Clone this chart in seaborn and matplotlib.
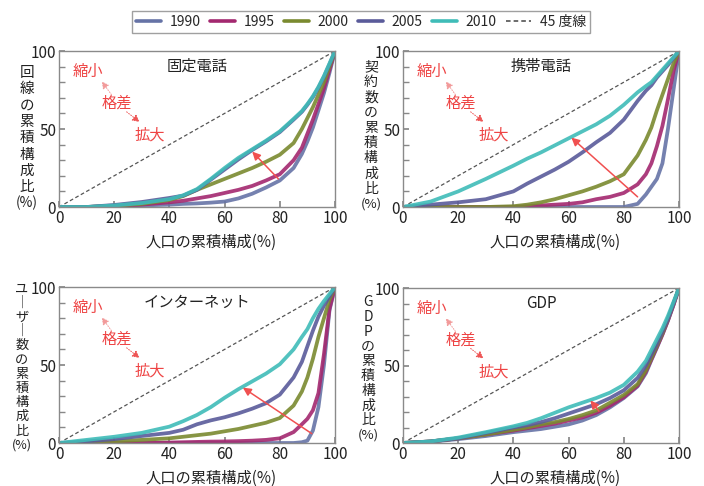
import numpy as np
import pandas as pd
import matplotlib
matplotlib.use('Agg')
import matplotlib.pyplot as plt
from matplotlib.lines import Line2D
import seaborn as sns

sns.set_theme(style='white')
plt.rcParams['font.family'] = ['Noto Sans CJK JP', 'DejaVu Sans']

# データ (人口の累積構成 %, 各年の累積構成比 %)
years = ['1990', '1995', '2000', '2005', '2010']
colors = ['#6673a6', '#a3286f', '#7a8a2f', '#5a5b9a', '#3fbcb8']
X = [0, 10, 20, 30, 40, 45, 50, 55, 60, 65, 70, 75, 80, 85, 88, 90, 92, 94, 96, 98, 100]

# 固定電話
fixed_1990 = [0, 0, 0.5, 1, 1.5, 2, 2.3, 2.8, 3.5, 5.5, 8.5, 12.5, 17, 25, 34, 42, 51, 62, 73, 86, 100]
fixed_1995 = [0, 0, 0.5, 1.5, 3, 4, 5.5, 7, 9, 11, 13.5, 17, 21, 30, 38, 47, 56, 66, 76, 88, 100]
fixed_2000 = [0, 0, 0.8, 2, 4.5, 7, 11, 14.5, 18, 21.5, 25, 29, 33.5, 41, 50, 57, 64, 72, 80, 90, 100]
fixed_2005 = [0, 0, 1.3, 3.2, 5.8, 7.3, 11, 17.5, 24, 30.5, 36.5, 42, 48, 56, 61, 65.5, 70.5, 76.5, 83.5, 91.5, 100]
fixed_2010 = [0, 0, 1, 2.5, 5, 7.5, 11.5, 18, 25, 31.5, 37, 42.5, 48.5, 56.5, 61.5, 66, 71, 77, 84, 92, 100]

# 携帯電話
mobile_1990 = [0, 0, 0, 0, 0, 0, 0, 0, 0, 0, 0, 0, 0, 2, 8, 13, 18, 28, 50, 75, 100]
mobile_1995 = [0, 0, 0, 0, 0, 0.5, 1, 1.5, 2, 3, 5, 6.5, 9, 14.5, 21, 28, 39, 52, 69, 87, 100]
mobile_2000 = [0, 0, 0, 0, 0.5, 1.5, 3, 5, 7.5, 10, 13, 16.5, 21, 33, 43, 51, 62, 72, 82, 92, 100]
mobile_2005 = [0, 1.5, 3, 5, 10, 15, 19.5, 24, 29, 35, 41.5, 47.5, 56, 68, 74.5, 78, 83, 87, 91, 95.5, 100]
mobile_2010 = [0, 3.5, 10, 18, 26.5, 31, 35, 39.5, 44, 48.5, 53, 58.5, 65.5, 73.5, 77.5, 80, 84, 88, 92, 96, 100]

# インターネット
net_1990 = [0, 0, 0, 0, 0, 0, 0, 0, 0, 0, 0, 0, 0, 0, 0.5, 1.5, 8, 23, 50, 85, 100]
net_1995 = [0, 0, 0, 0, 0.3, 0.5, 0.7, 0.9, 1, 1.2, 1.5, 2, 3, 7, 12, 15.5, 21, 32, 57, 86, 100]
net_2000 = [0, 0.3, 1, 2, 3, 4, 5, 6, 7.5, 9, 11, 13, 16, 24, 33, 42, 54, 68, 80, 92, 100]
net_2005 = [0, 1, 2.5, 4.5, 6.5, 8.5, 12, 14.5, 16.5, 19, 22, 25.5, 31, 42, 52, 62, 72, 81, 88, 94, 100]
net_2010 = [0, 2, 4, 6.5, 10.5, 14, 18, 23, 29, 34.5, 39.5, 44.5, 50.5, 60, 68, 73, 80, 86, 91, 95.5, 100]

# GDP
gdp_1990 = [0, 0.8, 2.5, 4.5, 7, 8, 9, 10.5, 12, 14.5, 18, 23, 29, 36.5, 45, 53.5, 61.5, 70, 79, 89, 100]
gdp_1995 = [0, 1, 3, 5.5, 8, 9.5, 11, 12.5, 14.5, 16.5, 19.5, 24, 29.5, 37, 46, 54, 62, 70, 79, 89, 100]
gdp_2000 = [0, 1, 3, 5.5, 8.5, 10, 12, 13.5, 15.5, 18, 21, 26, 31, 38, 47, 55, 63, 71, 80, 90, 100]
gdp_2005 = [0, 1, 3, 6.5, 10, 11.5, 13.5, 16, 19, 22, 25, 29, 34, 42, 50, 57, 64, 72, 80, 90, 100]
gdp_2010 = [0, 1, 3.5, 7, 10.8, 13, 16, 19.5, 23, 26, 29, 32.5, 37.5, 46, 53, 60, 67, 74, 82, 91, 100]

titles = ['固定電話', '携帯電話', 'インターネット', 'GDP']
ylabels = [['回', '線', 'の', '累', '積', '構', '成', '比', '(%)'],
           ['契', '約', '数', 'の', '累', '積', '構', '成', '比', '(%)'],
           ['ユ', '｜', 'ザ', '｜', '数', 'の', '累', '積', '構', '成', '比', '(%)'],
           ['G', 'D', 'P', 'の', '累', '積', '構', '成', '比', '(%)']]
panels = [[fixed_1990, fixed_1995, fixed_2000, fixed_2005, fixed_2010],
          [mobile_1990, mobile_1995, mobile_2000, mobile_2005, mobile_2010],
          [net_1990, net_1995, net_2000, net_2005, net_2010],
          [gdp_1990, gdp_1995, gdp_2000, gdp_2005, gdp_2010]]
# 赤い矢印 (始点, 終点)
arrows = [((79.5, 18), (70, 35.5)), ((85, 6.5), (61, 44.5)),
          ((91.6, 6), (66.6, 35.5)), ((71, 20.5), (67.9, 27.5))]
diag = [0, 100]

W, H = 704, 486
fig = plt.figure(figsize=(W / 100, H / 100), dpi=100)

# 各パネルの位置 (px): left, top, right, bottom
boxes = [(59, 51, 335, 207), (403, 51, 679, 207), (59, 287, 335, 443), (403, 288, 679, 443)]
# 縦書きラベル: x中心, 最初のy, ステップ, 文字サイズ
ylab_pos = [(27, 73, 16.3, 10.5), (371, 67, 15.2, 10), (22, 289, 14.2, 9.5), (368, 302, 14.8, 10)]

red = '#ee4444'
for i in range(4):
    l, t, r, b = boxes[i]
    ax = fig.add_axes([l / W, 1 - b / H, (r - l) / W, (b - t) / H])
    df = pd.DataFrame({'x': X * 5,
                       'y': sum(panels[i], []),
                       'year': [y for y in years for _ in X]})
    ax.plot(diag, diag, ls=(0, (3, 2)), color='#555555', lw=0.9)
    sns.lineplot(data=df, x='x', y='y', hue='year', palette=colors, lw=2.7,
                 alpha=0.9, legend=False, ax=ax, estimator=None, sort=False)
    ax.set_xlim(0, 100)
    ax.set_ylim(0, 100)
    ax.set_xticks(range(0, 101, 20))
    ax.set_yticks([0, 50, 100])
    ax.set_yticks(range(0, 101, 10), minor=True)
    ax.tick_params(which='both', direction='in', length=4, color='#888888',
                   bottom=True, left=True, labelsize=11, pad=2, labelcolor='#222222')
    for s in ax.spines.values():
        s.set_color('#8a8a8a')
        s.set_linewidth(1.0)
    ax.set_xlabel('人口の累積構成(%)', fontsize=11, labelpad=3, color='#222222')
    ax.xaxis.set_label_coords(0.55, -0.17)
    ax.set_ylabel('')

    ax.text(50, 90, titles[i], fontsize=11, ha='center', va='center', color='#222222')

    # 格差の注記
    ax.text(10.3, 87, '縮小', color=red, fontsize=11, ha='center', va='center')
    ax.text(21, 66.5, '格差', color=red, fontsize=11, ha='center', va='center')
    ax.text(33, 46, '拡大', color=red, fontsize=11, ha='center', va='center')
    ax.annotate('', xy=(15.5, 80.5), xytext=(19, 72),
                arrowprops=dict(arrowstyle='-|>,head_length=0.35,head_width=0.18',
                                color='#f29a9a', lw=0.7, ls=':', shrinkA=0, shrinkB=0))
    ax.annotate('', xy=(29.2, 54.5), xytext=(24.5, 61),
                arrowprops=dict(arrowstyle='-|>,head_length=0.35,head_width=0.18',
                                color='#ee5555', lw=0.7, ls=':', shrinkA=0, shrinkB=0))
    (x0, y0), (x1, y1) = arrows[i]
    ax.annotate('', xy=(x1, y1), xytext=(x0, y0),
                arrowprops=dict(arrowstyle='-|>,head_length=0.4,head_width=0.2',
                                color='#f05050', lw=1.1, shrinkA=0, shrinkB=0))

    # 縦書きの軸ラベル
    cx, y0p, step, fs0 = ylab_pos[i]
    for k, ch in enumerate(ylabels[i]):
        fs = fs0 - 0.5 if ch == '(%)' else fs0
        fig.text(cx / W, 1 - (y0p + k * step) / H, ch, fontsize=fs,
                 ha='center', va='center', color='#222222')

handles = [Line2D([], [], color=c, lw=2.6) for c in colors]
handles.append(Line2D([], [], color='#444444', lw=1.1, ls=(0, (3, 2))))
fig.legend(handles, years + ['45 度線'], ncol=6, loc='upper center',
           bbox_to_anchor=(361 / W, 1 - 4 / H), frameon=True, fancybox=False,
           edgecolor='#888888', fontsize=10, handlelength=1.8,
           columnspacing=0.7, handletextpad=0.6, borderpad=0.3)

fig.savefig('out.png', dpi=100)
